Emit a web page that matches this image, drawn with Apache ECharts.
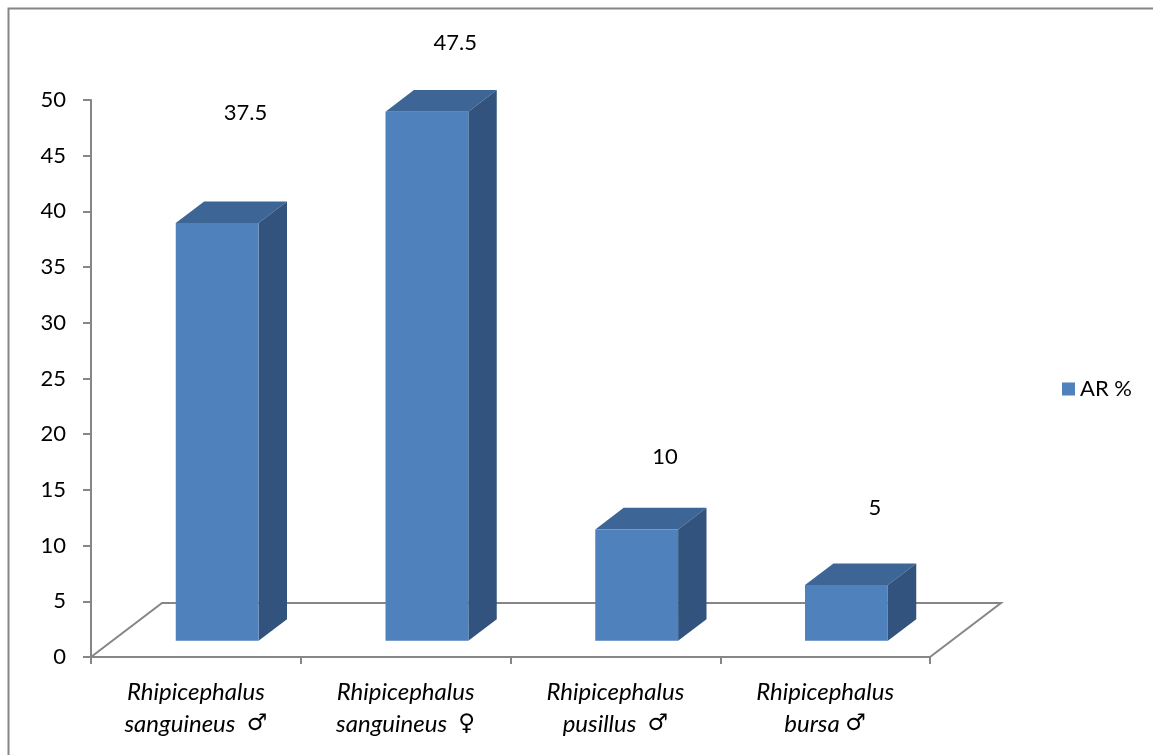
<!DOCTYPE html>
<html>
<head>
<meta charset="utf-8">
<script src="https://cdn.jsdelivr.net/npm/echarts@6/dist/echarts.min.js"></script>
<style>
  html, body { margin: 0; padding: 0; background: #fff; }
  #chart { width: 1153px; height: 755px; }
</style>
</head>
<body>
<div id="chart"></div>
<script>
const categories = [
  'Rhipicephalus\nsanguineus  ♂',
  'Rhipicephalus\nsanguineus  ♀',
  'Rhipicephalus\npusillus  ♂',
  'Rhipicephalus\nbursa ♂',
]
const arValues = [37.5, 47.5, 10, 5]
const seriesName = 'AR %'

// layout tweaks (pixels), not data
const depth = [71, -54]           // floor depth vector
const labelLift = [89, 47, 51, 56] // Excel put its 3D labels at uneven heights

const FONT = 'Lato, "Open Sans", sans-serif'
const GREY = '#868686'

const chart = echarts.init(document.getElementById('chart'), null, { renderer: 'canvas' })

function renderFloor(params, api) {
  const cs = params.coordSys
  const y0 = cs.y + cs.height
  return {
    type: 'polyline',
    shape: {
      points: [
        [cs.x, y0],
        [cs.x + depth[0], y0 + depth[1]],
        [cs.x + cs.width + depth[0], y0 + depth[1]],
        [cs.x + cs.width, y0],
      ],
    },
    style: { stroke: GREY, lineWidth: 2, fill: null },
    silent: true,
  }
}

function renderBar(params, api) {
  const i = api.value(0)
  const v = api.value(1)
  const base = api.coord([i, 0])
  const top = api.coord([i, v])
  const band = api.size([1, 0])[0]
  const w = band * 0.395
  const fx = depth[0] * 0.3
  const fy = depth[1] * 0.3
  const dx = depth[0] * 0.4
  const dy = depth[1] * 0.4
  const x0 = base[0] - w / 2 + fx
  const x1 = x0 + w
  const yb = base[1] + fy
  const yt = top[1] + fy
  return {
    type: 'group',
    children: [
      {
        type: 'polygon',
        shape: { points: [[x0, yt], [x0 + dx, yt + dy], [x1 + dx, yt + dy], [x1, yt]] },
        style: { fill: '#3D6595' },
      },
      {
        type: 'polygon',
        shape: { points: [[x1, yt], [x1 + dx, yt + dy], [x1 + dx, yb + dy], [x1, yb]] },
        style: { fill: '#32537D' },
      },
      {
        type: 'rect',
        shape: { x: x0, y: yt, width: w, height: yb - yt },
        style: { fill: '#4F81BD' },
      },
      {
        type: 'text',
        style: {
          text: String(v),
          x: (x0 + x1) / 2 + dx,
          y: yt + dy - labelLift[params.dataIndex],
          align: 'center',
          verticalAlign: 'middle',
          fill: '#000',
          font: '22px ' + FONT,
        },
      },
    ],
  }
}

chart.setOption({
  animation: false,
  backgroundColor: '#fff',
  textStyle: { fontFamily: FONT },
  graphic: [{
    type: 'rect',
    shape: { x: 8.5, y: 8.5, width: 1300, height: 900 },
    style: { fill: null, stroke: GREY, lineWidth: 2 },
    silent: true,
  }],
  legend: {
    data: [seriesName],
    left: 1057,
    top: 373,
    orient: 'vertical',
    icon: 'rect',
    itemWidth: 13,
    itemHeight: 13,
    itemGap: 8,
    textStyle: { color: '#000', fontSize: 22, fontFamily: FONT },
  },
  grid: { left: 91, right: 223, top: 100, bottom: 98 },
  xAxis: {
    type: 'category',
    data: categories,
    axisLine: { lineStyle: { color: GREY, width: 2 } },
    axisTick: { show: true, length: 7, lineStyle: { color: GREY, width: 2 } },
    axisLabel: {
      interval: 0,
      color: '#000',
      fontSize: 24,
      fontStyle: 'italic',
      fontFamily: FONT,
      lineHeight: 32,
      margin: 19,
      formatter: (value) => value.replace(/([♂♀])/g, '{g|$1}'),
      rich: {
        g: {
          fontFamily: '"DejaVu Sans", sans-serif',
          fontStyle: 'normal',
          fontSize: 23,
          color: '#000',
          lineHeight: 32,
        },
      },
    },
  },
  yAxis: {
    type: 'value',
    min: 0,
    max: 50,
    interval: 5,
    axisLine: { show: true, lineStyle: { color: GREY, width: 2 } },
    axisTick: { show: true, length: 8, lineStyle: { color: GREY, width: 2 } },
    axisLabel: { color: '#000', fontSize: 22, fontFamily: FONT, margin: 25 },
    splitLine: { show: false },
  },
  series: [
    {
      name: 'floor',
      type: 'custom',
      z: 1,
      renderItem: renderFloor,
      data: [[0, 0]],
      silent: true,
    },
    {
      name: seriesName,
      type: 'custom',
      z: 2,
      itemStyle: { color: '#4F81BD' },
      renderItem: renderBar,
      encode: { x: 0, y: 1 },
      data: arValues.map((v, i) => [i, v]),
    },
  ],
})
</script>
</body>
</html>
